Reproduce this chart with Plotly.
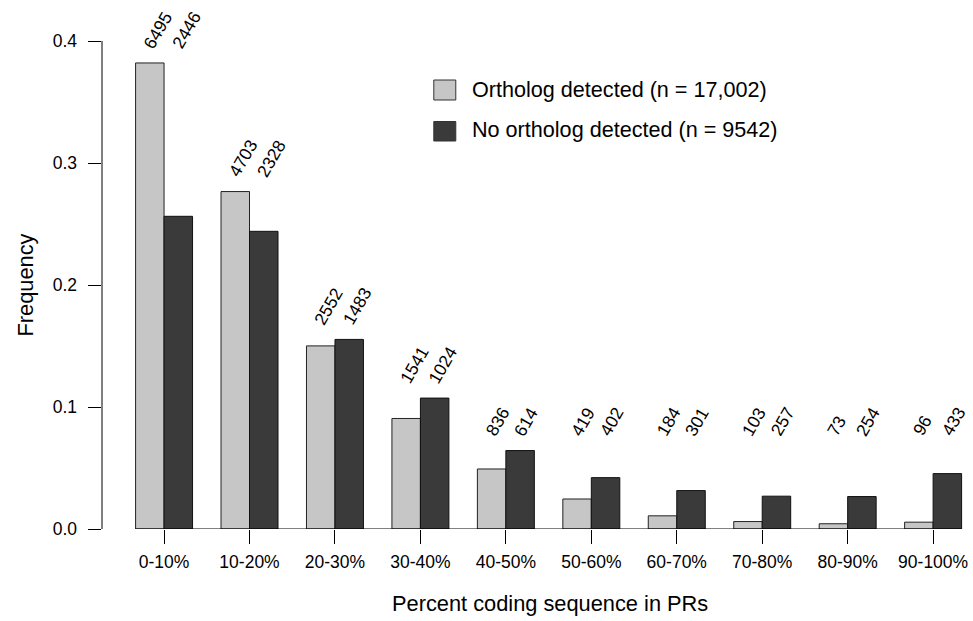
import plotly.graph_objects as go

# ---------------- data ----------------
categories = ['0-10%', '10-20%', '20-30%', '30-40%', '40-50%',
              '50-60%', '60-70%', '70-80%', '80-90%', '90-100%']
ortholog_counts = [6495, 4703, 2552, 1541, 836, 419, 184, 103, 73, 96]
no_ortholog_counts = [2446, 2328, 1483, 1024, 614, 402, 301, 257, 254, 433]
ortholog_freq = [0.3820, 0.2766, 0.1501, 0.0906, 0.0492,
                 0.0246, 0.0108, 0.0061, 0.0043, 0.0056]
no_ortholog_freq = [0.2563, 0.2440, 0.1554, 0.1073, 0.0643,
                    0.0421, 0.0315, 0.0269, 0.0266, 0.0454]
series_names = ['Ortholog detected (n = 17,002)', 'No ortholog detected (n = 9542)']
y_tick_vals = [0.0, 0.1, 0.2, 0.3, 0.4]
y_tick_text = ['0.0', '0.1', '0.2', '0.3', '0.4']

# ---------------- style / layout ----------------
W, H = 973, 621
L, R, T, B = 101.5, 968, 6, 529          # plot area in page pixels
PX_PER_CAT = 85.5
CAT0_PX = 163.6
Y_SCALE = 1220.0                          # pixels per unit frequency
LIGHT = '#c6c6c6'
DARK = '#3a3a3a'
FONT = 'Liberation Sans, Arial, Helvetica, sans-serif'

x_range = [(L - CAT0_PX) / PX_PER_CAT, (R - CAT0_PX) / PX_PER_CAT]
y_range = [0, (B - T) / Y_SCALE]


def pxx(x):
    return (x - L) / (R - L)


def pxy(y):
    return (B - y) / (B - T)


fig = go.Figure()
fig.add_trace(go.Bar(x=categories, y=ortholog_freq, name=series_names[0],
                     marker=dict(color=LIGHT, line=dict(color='#222222', width=1))))
fig.add_trace(go.Bar(x=categories, y=no_ortholog_freq, name=series_names[1],
                     marker=dict(color=DARK, line=dict(color='#111111', width=1))))

half_bar_px = PX_PER_CAT / 3 / 2
annotations = []
# count labels above each group, rotated 60 degrees
label_floor = max(no_ortholog_freq[4], ortholog_freq[4])
for i, cat in enumerate(categories):
    gmax = max(ortholog_freq[i], no_ortholog_freq[i], label_floor)
    ly = gmax + 0.007
    for cnt, sign in ((ortholog_counts[i], -1), (no_ortholog_counts[i], 1)):
        annotations.append(dict(
            x=cat, y=ly, xref='x', yref='y', text=str(cnt), showarrow=False,
            textangle=-60, xanchor='left', yanchor='bottom',
            xshift=sign * half_bar_px - 13, yshift=0,
            font=dict(family=FONT, size=17.5, color='black')))

# axis titles
annotations.append(dict(x=pxx(549.5), y=pxy(603), xref='paper', yref='paper',
                        text='Percent coding sequence in PRs', showarrow=False,
                        xanchor='center', yanchor='middle',
                        font=dict(family=FONT, size=21.8, color='black')))
annotations.append(dict(x=pxx(25), y=pxy(285), xref='paper', yref='paper',
                        text='Frequency', showarrow=False, textangle=-90,
                        xanchor='center', yanchor='middle',
                        font=dict(family=FONT, size=21.8, color='black')))

# legend (drawn manually to match the large square keys)
shapes = []
legend_rows = [(LIGHT, 80, 100, 89), (DARK, 121.5, 141, 129.5)]
for (col, y0, y1, ty), name in zip(legend_rows, series_names):
    shapes.append(dict(type='rect', xref='paper', yref='paper',
                       x0=pxx(433.5), x1=pxx(455.5), y0=pxy(y1), y1=pxy(y0),
                       fillcolor=col, line=dict(color='#333333', width=1)))
    annotations.append(dict(x=pxx(470), y=pxy(ty), xref='paper', yref='paper',
                            text=name, showarrow=False, xanchor='left', yanchor='middle',
                            font=dict(family=FONT, size=21.6, color='black')))

# y axis line from 0 to 0.4 (R style)
shapes.append(dict(type='line', xref='paper', yref='y', x0=0, x1=0,
                   y0=y_tick_vals[0], y1=y_tick_vals[-1],
                   line=dict(color='black', width=1)))
# baseline under the bars
n = len(categories)
shapes.append(dict(type='line', xref='x', yref='y', x0=-1 / 3, x1=n - 1 + 1 / 3,
                   y0=0, y1=0, line=dict(color='black', width=1)))

fig.update_layout(
    width=W, height=H,
    margin=dict(l=L, r=W - R, t=T, b=H - B, pad=0),
    paper_bgcolor='white', plot_bgcolor='white',
    barmode='group', bargap=1 / 3, bargroupgap=0,
    showlegend=False,
    font=dict(family=FONT, color='black'),
    annotations=annotations, shapes=shapes,
    xaxis=dict(type='category', range=x_range, showgrid=False, zeroline=False,
               showline=False, ticks='outside', ticklen=13.5, tickwidth=1,
               tickcolor='black', ticklabelstandoff=3,
               tickfont=dict(family=FONT, size=17.5, color='black')),
    yaxis=dict(range=y_range, showgrid=False, zeroline=False, showline=False,
               tickvals=y_tick_vals, ticktext=y_tick_text,
               ticks='outside', ticklen=13.5, tickwidth=1, tickcolor='black',
               ticklabelstandoff=7,
               tickfont=dict(family=FONT, size=17.5, color='black')),
)

# remove the default page margin so the figure fills the 973x621 window exactly
fig.write_html('out.html',
               config={'displayModeBar': False},
               post_script="document.body.style.margin='0';"
                           "document.documentElement.style.overflow='hidden';")
